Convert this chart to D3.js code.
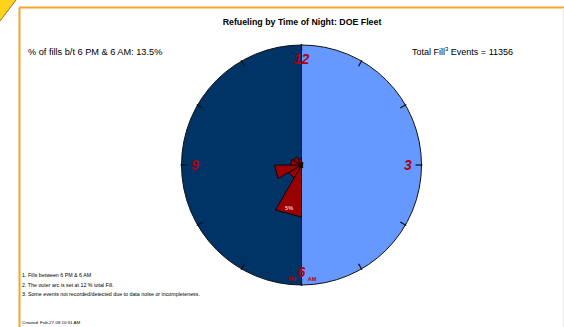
<!DOCTYPE html>
<html>
<head>
<meta charset="utf-8">
<script src="https://cdn.jsdelivr.net/npm/d3@7"></script>
<style>
html,body{margin:0;padding:0;background:#fff;}
svg{display:block;font-family:"Liberation Sans",Arial,sans-serif;}
</style>
</head>
<body>
<svg id="chart" width="564" height="327"></svg>
<script>
// ---- data ----
const hourLabels = ["6 PM","7 PM","8 PM","9 PM","10 PM","11 PM","12 AM","1 AM","2 AM","3 AM","4 AM","5 AM"];
const fillPct = [5.2, 1.5, 2.7, 1.1, 0.95, 0.65, 0.3, 0.2, 0.12, 0.12, 0.15, 0.3];
const clockNumbers = ["12","3","6","9"];
const clockHours = [12, 3, 6, 9];
const tickHours = [1,2,3,4,5,6,7,8,9,10,11,12];
const outerPct = 12;
const title = "Refueling by Time of Night: DOE Fleet";
const leftNote = "% of fills b/t 6 PM & 6 AM: 13.5%";
const totalEvents = 11356;
const notes = ["1. Fills between 6 PM & 6 AM",
  "2. The outer arc is set at 12 % total Fill.",
  "3. Some events not recorded/detected due to data noise or incompleteness."];
const created = "Created: Feb-27-08 10:51 AM";
const wedgeLabel = "5%";

// ---- layout ----
const svg = d3.select("#chart");
const cx = 301.5, cy = 165, R = 120;
const rScale = d3.scaleLinear().domain([0, outerPct]).range([0, R]);
const angScale = d3.scaleLinear().domain([0, 12]).range([0, 2*Math.PI]); // clock hours -> radians clockwise from top
const pt = (h, r) => [cx + r*Math.sin(angScale(h)), cy - r*Math.cos(angScale(h))];

// orange frame + dog ear
svg.append("line").attr("x1",19.5).attr("y1",8).attr("x2",19.5).attr("y2",327).attr("stroke","#f7a52a").attr("stroke-width",2);
svg.append("line").attr("x1",19).attr("y1",7.5).attr("x2",564).attr("y2",7.5).attr("stroke","#f7a52a").attr("stroke-width",2);
svg.append("line").attr("x1",563.5).attr("y1",8).attr("x2",563.5).attr("y2",327).attr("stroke","#e8e8e8").attr("stroke-width",1);
svg.append("path").attr("d","M0,0L16,0L0,21Z").attr("fill","#ffd21c");
svg.append("line").attr("x1",16).attr("y1",0).attr("x2",0).attr("y2",21).attr("stroke","#6b5a20").attr("stroke-width",0.8);

// clock halves
const g = svg.append("g").attr("transform",`translate(${cx},${cy})`);
const arc = d3.arc().innerRadius(0).outerRadius(R);
g.append("path").attr("d", arc({startAngle: angScale(0), endAngle: angScale(6)})).attr("fill","#6699ff");
g.append("path").attr("d", arc({startAngle: angScale(6), endAngle: angScale(12)})).attr("fill","#003366");
g.append("circle").attr("r",R).attr("fill","none").attr("stroke","#111").attr("stroke-width",1);
svg.append("line").attr("x1",cx).attr("y1",cy-R).attr("x2",cx).attr("y2",cy+R).attr("stroke","#0a1a30").attr("stroke-width",1);

// ticks
svg.append("g").selectAll("line").data(tickHours).join("line")
  .attr("x1",d=>pt(d,R-6)[0]).attr("y1",d=>pt(d,R-6)[1])
  .attr("x2",d=>pt(d,R+1)[0]).attr("y2",d=>pt(d,R+1)[1])
  .attr("stroke","#111").attr("stroke-width",1.3);

// wedges (6 PM at clock hour 6, going clockwise)
const line = d3.line();
svg.append("g").selectAll("path").data(fillPct).join("path")
  .attr("d",(d,i)=>{
    const h0 = 6 + i, h1 = 7 + i, r = rScale(d);
    return line([[cx,cy], pt(h0,r), pt(h1,r)]) + "Z";
  })
  .attr("fill","#990000").attr("stroke","#000").attr("stroke-width",0.8).attr("stroke-linejoin","miter");

// wedge label
{
  const p = pt(6.5, rScale(fillPct[0]) * 0.85);
  svg.append("text").attr("x",p[0]-1).attr("y",p[1]+2).attr("text-anchor","middle")
    .attr("font-size",5.5).attr("font-weight","bold").attr("fill","#f4c6c6").text(wedgeLabel);
}

// clock numbers
svg.append("g").selectAll("text").data(clockNumbers).join("text")
  .attr("x",(d,i)=>pt(clockHours[i],106.5)[0])
  .attr("y",(d,i)=>pt(clockHours[i],106.5)[1])
  .attr("dy","0.36em").attr("text-anchor","middle")
  .attr("font-size",14).attr("font-weight","bold").attr("font-style","italic")
  .attr("fill","#b00010").text(d=>d);
svg.append("text").attr("x",292).attr("y",281).attr("text-anchor","middle").attr("font-size",5.5).attr("font-weight","bold").attr("fill","#b00010").text("PM");
svg.append("text").attr("x",312).attr("y",281).attr("text-anchor","middle").attr("font-size",5.5).attr("font-weight","bold").attr("fill","#b00010").text("AM");

// texts
svg.append("text").attr("x",302).attr("y",25).attr("text-anchor","middle").attr("font-size",8.8).attr("font-weight","bold").attr("fill","#000").text(title);
svg.append("text").attr("x",28).attr("y",55).attr("font-size",9.2).attr("fill","#000").text(leftNote);
const t = svg.append("text").attr("x",412).attr("y",55).attr("font-size",9).attr("fill","#000");
t.append("tspan").text("Total Fill");
t.append("tspan").attr("dy",-4).attr("font-size",6).text("3");
t.append("tspan").attr("dy",4).text(" Events = " + totalEvents);

svg.append("g").selectAll("text").data(notes).join("text")
  .attr("x",22).attr("y",(d,i)=>[276.5,286.5,296][i])
  .attr("font-size",5.3).attr("fill","#000").text(d=>d);
svg.append("text").attr("x",22).attr("y",323.5).attr("font-size",4.4).attr("fill","#000").text(created);
</script>
</body>
</html>
